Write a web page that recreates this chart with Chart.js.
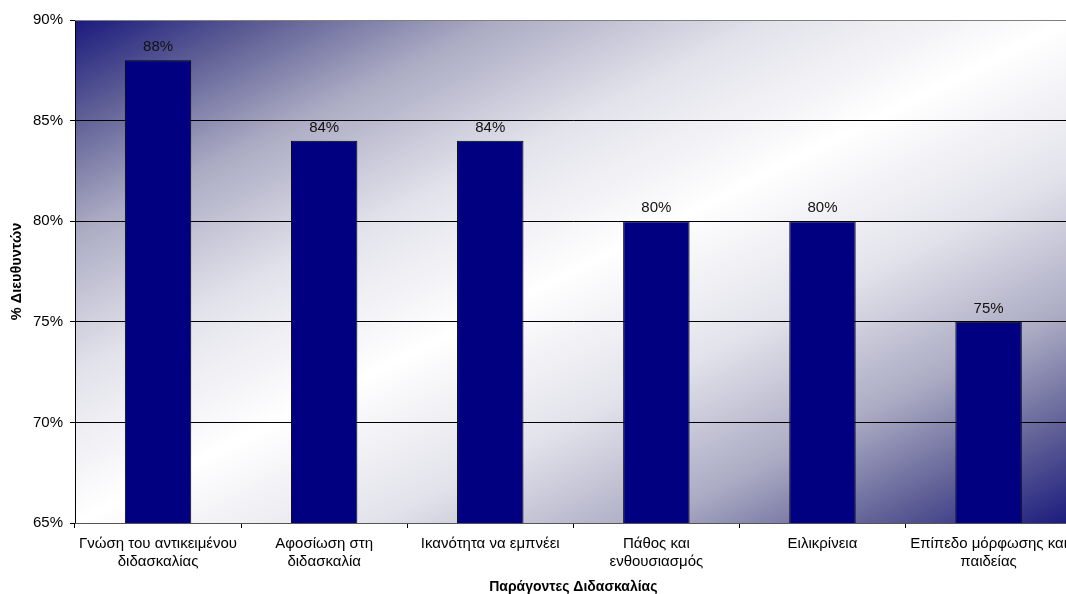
<!DOCTYPE html>
<html>
<head>
<meta charset="utf-8">
<script src="https://cdn.jsdelivr.net/npm/chart.js@4/dist/chart.umd.min.js"></script>
<style>
  body { margin: 0; overflow: hidden; background: #fff; }
  canvas { display: block; }
</style>
</head>
<body>
<canvas id="chart" width="1074" height="594"></canvas>
<script>
// categories (two-line labels as in the original)
var factors = [
    ["Γνώση του αντικειμένου", "διδασκαλίας"],
    ["Αφοσίωση στη", "διδασκαλία"],
    ["Ικανότητα να εμπνέει"],
    ["Πάθος και", "ενθουσιασμός"],
    ["Ειλικρίνεια"],
    ["Επίπεδο μόρφωσης και", "παιδείας"]
];
var principalsPct = [88, 84, 84, 80, 80, 75];
var yTicks = [65, 70, 75, 80, 85, 90];

var fontFam = "'Liberation Sans', Arial, sans-serif";

// diagonal gradient behind the plot area (dark corners, white band in the middle)
var bgPlugin = {
    id: 'plotBg',
    beforeDraw: function(chart) {
        var a = chart.chartArea, ctx = chart.ctx;
        ctx.save();
        ctx.translate(a.left, a.top);
        ctx.scale(a.right - a.left, a.bottom - a.top);
        var g = ctx.createLinearGradient(0, 0, 1, 1);
        g.addColorStop(0, '#1a1a7e');
        g.addColorStop(0.1, '#5f5f96');
        g.addColorStop(0.21, '#aaaac3');
        g.addColorStop(0.35, '#e2e2eb');
        g.addColorStop(0.5, '#ffffff');
        g.addColorStop(0.65, '#e2e2eb');
        g.addColorStop(0.79, '#aaaac3');
        g.addColorStop(0.9, '#5f5f96');
        g.addColorStop(1, '#1a1a7e');
        ctx.fillStyle = g;
        ctx.fillRect(0, 0, 1, 1);
        ctx.restore();
    },
    afterDraw: function(chart) {
        // grey top border of the plot area
        var a = chart.chartArea, ctx = chart.ctx;
        ctx.save();
        ctx.strokeStyle = '#808080';
        ctx.lineWidth = 1;
        ctx.beginPath();
        ctx.moveTo(a.left, a.top + 0.5);
        ctx.lineTo(a.right, a.top + 0.5);
        ctx.stroke();
        ctx.restore();
    }
};

// value labels above the bars
var valueLabels = {
    id: 'valueLabels',
    afterDatasetsDraw: function(chart) {
        var ctx = chart.ctx;
        var meta = chart.getDatasetMeta(0);
        ctx.save();
        ctx.font = '15px ' + fontFam;
        ctx.fillStyle = '#111';
        ctx.textAlign = 'center';
        ctx.textBaseline = 'alphabetic';
        meta.data.forEach(function(bar, i) {
            ctx.fillText(principalsPct[i] + '%', bar.x, bar.y - 9);
        });
        ctx.restore();
    }
};

new Chart(document.getElementById('chart').getContext('2d'), {
    type: 'bar',
    data: {
        labels: factors,
        datasets: [{
            data: principalsPct,
            backgroundColor: '#000080',
            borderColor: '#000000',
            borderWidth: 1,
            barPercentage: 0.4,
            categoryPercentage: 1
        }]
    },
    options: {
        responsive: false,
        animation: false,
        layout: { padding: { top: 20, left: 0, right: 0, bottom: 0 } },
        plugins: {
            legend: { display: false },
            tooltip: { enabled: false }
        },
        scales: {
            y: {
                min: 65,
                max: 90,
                afterBuildTicks: function(scale) {
                    scale.ticks = yTicks.map(function(v) { return { value: v }; });
                },
                afterFit: function(scale) { scale.width = 75; },
                ticks: {
                    color: '#000',
                    font: { family: fontFam, size: 15 },
                    padding: 7,
                    callback: function(v) { return v + '%'; }
                },
                grid: {
                    color: function(c) { return c.tick && c.tick.value === 90 ? 'rgba(0,0,0,0)' : '#000'; },
                    tickColor: '#000',
                    tickLength: 5,
                    lineWidth: 1
                },
                border: { color: '#000' },
                title: {
                    display: true,
                    text: '% Διευθυντών',
                    color: '#000',
                    font: { family: fontFam, size: 14.5, weight: 'bold' },
                    padding: { top: 8, bottom: 0 }
                }
            },
            x: {
                afterFit: function(scale) { scale.height = 71; },
                ticks: {
                    color: '#000',
                    font: { family: fontFam, size: 15 },
                    padding: 7,
                    maxRotation: 0,
                    autoSkip: false
                },
                grid: {
                    drawOnChartArea: false,
                    tickColor: '#000',
                    tickLength: 5
                },
                border: { color: '#555' },
                title: {
                    display: true,
                    text: 'Παράγοντες Διδασκαλίας',
                    color: '#000',
                    font: { family: fontFam, size: 14, weight: 'bold' },
                    padding: { top: 4, bottom: -2 }
                }
            }
        }
    },
    plugins: [bgPlugin, valueLabels]
});
</script>
</body>
</html>
